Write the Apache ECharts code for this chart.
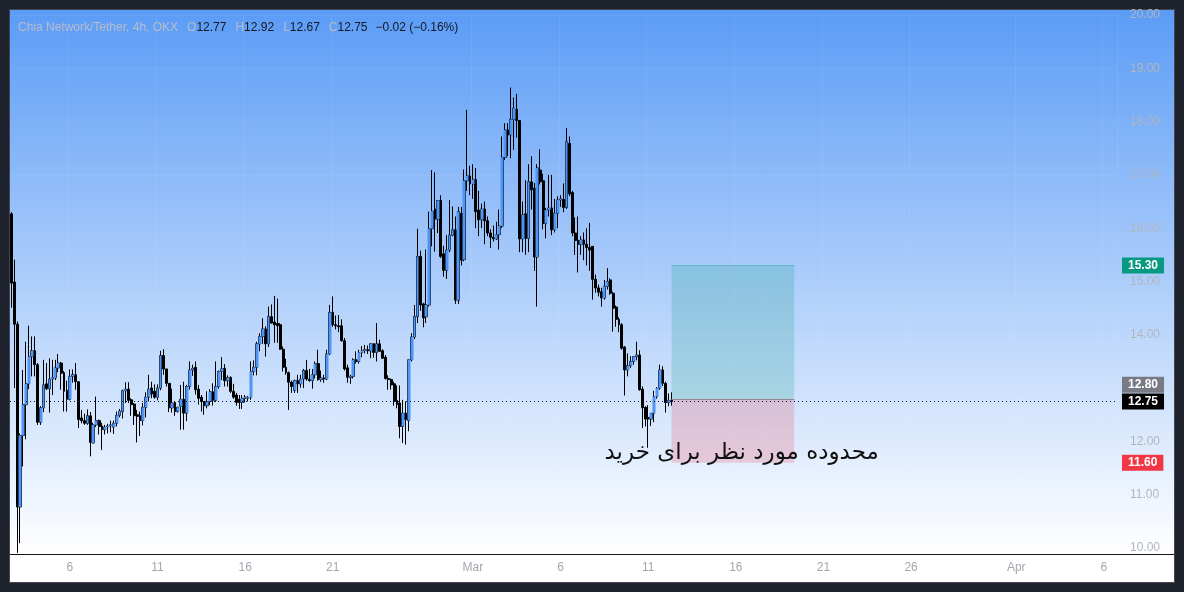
<!DOCTYPE html>
<html><head><meta charset="utf-8">
<script src="https://cdn.jsdelivr.net/npm/echarts@6/dist/echarts.min.js"></script>
<style>
html,body{margin:0;padding:0;background:#1e222d;width:1184px;height:592px;overflow:hidden}
#frame{position:absolute;left:9px;top:9px;width:1164px;height:572px;border:1px solid #434651;background:#ffffff}
#panel{position:absolute;left:10px;top:10px;width:1164px;height:544px;border-bottom:1px solid #131722;background:linear-gradient(to bottom,#5b9cf6 0%,#ffffff 100%)}
#chart{position:absolute;left:0;top:0;width:1184px;height:592px}
</style></head><body>
<div id="frame"></div><div id="panel"></div><div id="chart"></div>
<script>
// ---- data (XCH/USDT 4h, OKX) ----
const startTime = '2025-02-02T16:00:00Z';
const slotCount = 379;
const openP = [16.27,14.99,14.20,10.77,12.11,12.69,13.08,13.59,13.70,13.44,12.36,12.63,13.08,12.99,13.17,13.19,13.38,13.47,13.29,12.96,
12.79,13.22,13.25,13.12,12.44,12.39,12.34,12.48,11.97,12.31,12.39,12.29,12.22,12.27,12.29,12.27,12.34,12.49,12.56,12.95,
12.98,12.78,12.70,12.50,12.48,12.39,12.64,12.83,13.00,12.94,12.83,13.00,13.61,13.36,13.09,12.63,12.73,12.56,12.66,12.79,
12.53,13.03,13.34,13.39,12.98,12.83,12.75,12.67,12.75,12.93,12.77,13.03,13.31,13.37,13.14,13.20,12.94,12.87,12.79,12.73,
12.81,12.81,12.83,13.31,13.39,13.83,13.97,14.11,13.83,14.34,14.24,14.21,14.19,13.73,13.39,13.29,13.11,12.96,13.14,13.08,
13.17,13.33,13.17,13.14,13.25,13.46,13.16,13.19,13.17,13.64,14.42,14.19,14.17,14.17,13.89,13.38,13.20,13.22,13.53,13.50,
13.67,13.70,13.72,13.70,13.83,13.67,13.83,13.70,13.58,13.18,13.16,13.08,12.77,12.72,12.28,12.53,12.39,13.53,13.96,14.34,
15.47,14.58,14.34,14.56,15.99,16.36,16.17,16.52,15.52,15.21,15.59,15.87,15.97,14.65,16.28,15.41,16.89,16.98,16.83,16.91,
16.34,16.16,16.36,16.14,15.91,15.83,15.80,15.88,16.04,17.33,17.84,17.75,18.04,18.23,18.02,15.80,16.27,15.81,16.87,16.75,
15.46,17.09,16.89,16.09,16.34,16.38,15.97,16.28,16.53,16.54,16.39,17.59,16.67,15.91,15.77,15.70,15.78,15.70,15.64,15.66,
15.04,14.88,14.81,14.69,14.91,15.03,14.78,14.52,14.29,14.19,13.77,13.34,13.42,13.50,13.59,13.62,12.98,12.64,12.45,12.42,
12.53,12.84,13.00,13.34,13.09,12.73,12.77];
const highP = [16.30,15.41,14.25,12.15,13.34,13.87,14.17,13.97,13.97,13.47,12.66,13.53,13.47,13.56,13.53,13.53,13.64,13.49,13.32,13.14,
13.35,13.35,13.47,13.12,12.59,12.52,12.60,12.55,12.35,12.84,12.41,12.35,12.31,12.33,12.39,12.39,12.56,12.61,12.97,13.11,
13.11,12.81,12.72,12.59,12.56,12.72,12.92,13.25,13.12,13.07,13.07,13.70,13.73,13.36,13.09,12.99,12.76,12.65,13.06,13.12,
13.06,13.50,13.44,13.50,13.06,12.87,12.75,12.94,12.98,13.09,13.50,13.33,13.58,13.45,13.24,13.22,13.08,12.91,12.87,12.87,
12.87,12.85,13.50,13.52,13.87,14.03,14.31,14.16,14.53,14.57,14.73,14.68,14.22,13.78,13.55,13.31,13.14,13.16,13.25,13.25,
13.36,13.53,13.36,13.36,13.50,13.72,13.33,13.25,13.72,14.56,14.72,14.36,14.37,14.29,13.94,13.44,13.25,13.56,13.69,13.72,
13.79,13.81,13.80,13.84,13.84,14.22,13.91,13.73,13.62,13.24,13.18,13.12,13.05,13.05,12.78,12.75,13.53,14.03,14.56,15.99,
15.58,14.60,15.60,16.31,17.09,17.05,16.53,16.62,15.67,15.87,16.53,16.41,16.22,16.40,16.40,17.10,18.22,17.17,17.20,17.13,
16.70,16.46,16.50,16.22,15.98,16.05,16.12,16.35,17.72,17.97,17.97,18.64,18.45,18.52,18.03,16.50,16.90,17.20,17.35,16.85,
17.20,17.48,17.02,16.38,17.00,17.00,16.55,16.60,16.62,16.84,17.88,17.72,16.70,16.20,16.22,15.85,15.92,16.00,16.10,15.66,
15.13,14.94,14.88,15.03,15.25,15.06,14.81,14.55,14.33,14.22,13.79,13.65,13.60,13.60,13.87,13.71,13.03,12.66,12.68,12.48,
12.95,13.02,13.44,13.41,13.12,12.90,12.92];
const lowP = [14.51,13.00,9.91,10.09,11.53,12.04,12.98,13.22,13.22,12.31,12.31,12.55,12.96,12.54,12.87,13.15,13.30,12.97,12.56,12.56,
12.77,13.10,12.97,12.25,12.34,12.31,12.31,11.72,11.96,12.27,12.13,11.84,12.13,12.15,12.17,12.14,12.28,12.45,12.43,12.72,
12.72,12.48,12.31,11.98,12.10,12.30,12.45,12.75,12.81,12.80,12.77,12.96,13.25,13.03,12.55,12.54,12.48,12.54,12.22,12.22,
12.38,12.97,13.23,12.88,12.69,12.56,12.50,12.62,12.68,12.67,12.74,12.99,13.15,13.03,13.03,12.91,12.80,12.67,12.61,12.61,
12.73,12.75,12.78,13.24,13.24,13.69,13.83,13.59,13.77,14.21,13.85,13.85,13.72,13.31,13.25,12.59,12.91,12.91,12.91,13.01,
13.00,13.14,13.12,12.99,13.18,13.14,13.12,13.10,13.15,13.62,14.15,14.10,14.05,13.87,13.33,13.10,13.08,13.18,13.46,13.46,
13.58,13.65,13.64,13.56,13.57,13.50,13.69,13.55,13.16,12.97,12.97,12.67,12.62,12.06,11.97,11.94,12.19,13.50,13.92,14.22,
14.45,14.14,14.22,14.53,15.66,15.56,15.91,15.44,15.09,15.05,15.55,15.85,14.58,14.58,15.30,15.38,16.70,16.62,16.55,16.00,
15.85,16.00,15.70,15.85,15.63,15.75,15.78,15.60,16.00,17.28,17.35,17.31,17.47,17.70,15.55,15.55,15.50,15.55,16.35,15.20,
14.53,16.82,15.98,15.81,16.22,15.87,15.92,16.00,16.40,16.30,16.36,16.60,15.85,15.50,15.17,15.50,15.40,15.30,15.20,14.66,
14.79,14.72,14.53,14.66,14.85,14.75,14.06,14.15,14.05,13.72,12.86,13.22,13.38,13.44,13.52,12.95,12.25,12.28,11.88,12.29,
12.36,12.80,12.97,13.04,12.54,12.66,12.67];
const closeP = [14.97,14.20,10.77,12.11,12.69,13.08,13.59,13.70,13.44,12.36,12.63,13.06,12.99,13.17,13.20,13.38,13.47,13.28,12.94,12.79,
13.22,13.25,13.12,12.41,12.39,12.34,12.48,11.98,12.31,12.39,12.28,12.22,12.27,12.29,12.31,12.34,12.49,12.57,12.95,12.98,
12.77,12.69,12.48,12.47,12.39,12.64,12.83,12.98,12.89,12.83,13.00,13.61,13.36,13.09,12.63,12.72,12.56,12.64,12.79,12.53,
13.03,13.34,13.37,12.97,12.81,12.75,12.67,12.75,12.93,12.77,13.03,13.31,13.36,13.14,13.20,12.94,12.83,12.73,12.73,12.81,
12.83,12.83,13.31,13.39,13.83,13.97,14.11,13.83,14.34,14.22,14.19,14.17,13.73,13.39,13.29,13.11,13.03,13.14,13.08,13.17,
13.33,13.17,13.14,13.25,13.46,13.16,13.19,13.17,13.64,14.42,14.19,14.17,14.15,13.89,13.36,13.20,13.22,13.53,13.50,13.67,
13.70,13.72,13.70,13.83,13.67,13.83,13.69,13.56,13.18,13.16,13.06,12.75,12.69,12.28,12.53,12.41,13.53,13.96,14.34,15.47,
14.56,14.32,14.56,15.99,16.32,16.17,16.52,15.47,15.21,15.59,15.87,15.97,14.65,16.31,15.40,16.89,16.98,16.83,16.91,16.31,
16.16,16.36,16.14,15.91,15.83,15.80,15.88,16.04,17.33,17.84,17.75,18.04,18.25,18.02,15.80,16.25,15.81,16.87,16.72,15.46,
17.13,16.87,16.09,16.34,16.38,15.97,16.28,16.53,16.55,16.39,17.62,16.64,15.91,15.77,15.70,15.78,15.70,15.64,15.59,15.04,
14.88,14.80,14.69,14.91,15.00,14.78,14.50,14.29,14.19,13.75,13.34,13.42,13.50,13.59,13.62,12.97,12.63,12.42,12.42,12.53,
12.84,13.00,13.34,13.09,12.73,12.77,12.75];
const priceTicks = [10,11,12,13,14,15,16,17,18,19,20];
const tickDates  = ['2025-02-06','2025-02-11','2025-02-16','2025-02-21','2025-03-01','2025-03-06','2025-03-11','2025-03-16','2025-03-21','2025-03-26','2025-04-01','2025-04-06'];
const tickLabels = ['6','11','16','21','Mar','6','11','16','21','26','Apr','6'];
const zonePrices = {target: 15.30, entry: 12.80, stop: 11.60};
const zoneSlots = {start: 226, end: 268};
const zoneText = 'محدوده مورد نظر برای خرید';
const zoneTextAt = {slot: 250, price: 11.78};
const titleText = 'Chia Network/Tether, 4h, OKX';

// ---- build ----
const cats = [];
const t0 = Date.parse(startTime);
for (let i = 0; i < slotCount; i++) {
  const d = new Date(t0 + i * 4 * 3600e3);
  cats.push(d.toISOString().slice(0, 13).replace('T', ' ') + ':00');
}
const isTick = (v) => v.slice(11) === '00:00' && tickDates.indexOf(v.slice(0, 10)) >= 0;
const allCandles = openP.map((o, i) => [o, closeP[i], lowP[i], highP[i]]);
const upBodies = openP.map((o, i) => closeP[i] > o ? [o, closeP[i], o, closeP[i]] : '-');
const n = closeP.length;
const lastO = openP[n - 1], lastH = highP[n - 1], lastL = lowP[n - 1], lastC = closeP[n - 1];
const chg = lastC - closeP[n - 2];
const pct = chg / closeP[n - 2] * 100;
const fmtS = (v, d) => (v < 0 ? '\u2212' : '+') + Math.abs(v).toFixed(d);

const priceLabel = (bg, off) => ({
  show: true, position: 'end', distance: 5, formatter: (p) => p.value.toFixed(2),
  color: '#ffffff', backgroundColor: bg, fontSize: 12, fontWeight: 'bold',
  fontFamily: 'Liberation Sans', padding: [2, 6, 2, 6], lineHeight: 12, offset: [0, off]
});

const chart = echarts.init(document.getElementById('chart'), null, {renderer: 'canvas'});
chart.setOption({
  animation: false,
  backgroundColor: 'transparent',
  textStyle: {fontFamily: 'Liberation Sans'},
  title: {
    left: 13, top: 17,
    text: '{n|' + titleText + '}{k|O}{v|' + lastO.toFixed(2) + '}{k|H}{v|' + lastH.toFixed(2) +
          '}{k|L}{v|' + lastL.toFixed(2) + '}{k|C}{v|' + lastC.toFixed(2) + '}{c|' + fmtS(chg, 2) +
          ' (' + fmtS(pct, 2) + '%)}',
    textStyle: {
      fontSize: 12, fontWeight: 'normal',
      rich: {
        n: {color: '#b8bccb', fontSize: 12, fontFamily: 'Liberation Sans'},
        k: {color: '#b8bccb', fontSize: 12, fontFamily: 'Liberation Sans', padding: [0, 0, 0, 9]},
        v: {color: '#131722', fontSize: 12, fontFamily: 'Liberation Sans'},
        c: {color: '#131722', fontSize: 12, fontFamily: 'Liberation Sans', padding: [0, 0, 0, 8]}
      }
    }
  },
  grid: {left: 10, right: 67, top: 15, bottom: 44, containLabel: false, outerBoundsMode: 'none'},
  xAxis: {
    type: 'category', data: cats, boundaryGap: true, offset: 6,
    axisLine: {show: true, lineStyle: {color: '#131722', width: 1}},
    axisTick: {show: false},
    axisLabel: {
      interval: (i, v) => isTick(v), formatter: (v) => tickLabels[tickDates.indexOf(v.slice(0, 10))],
      color: '#a3a6af', fontSize: 12, margin: 8, fontFamily: 'Liberation Sans'
    },
    splitLine: {show: true, interval: (i, v) => isTick(v), lineStyle: {color: 'rgba(255,255,255,0.07)', width: 1}}
  },
  yAxis: {
    type: 'value', position: 'right', min: priceTicks[0], max: priceTicks[priceTicks.length - 1], interval: 1,
    axisLine: {show: false}, axisTick: {show: false},
    axisLabel: {color: '#b2b5be', fontSize: 12, margin: 13, formatter: (v) => v.toFixed(2), fontFamily: 'Liberation Sans'},
    splitLine: {show: true, lineStyle: {color: 'rgba(255,255,255,0.07)', width: 1}}
  },
  series: [
    {
      type: 'candlestick', name: 'all', data: allCandles, barWidth: 2.4, clip: false, silent: true,
      itemStyle: {color: '#000000', color0: '#000000', borderColor: '#000000', borderColor0: '#000000', borderWidth: 1},
      markArea: {
        silent: true,
        data: [
          [{coord: [cats[zoneSlots.start], zonePrices.target], itemStyle: {color: 'rgba(8,153,129,0.2)'}},
           {coord: [cats[zoneSlots.end], zonePrices.entry]}],
          [{coord: [cats[zoneSlots.start], zonePrices.entry], itemStyle: {color: 'rgba(242,54,69,0.2)'}},
           {coord: [cats[zoneSlots.end], zonePrices.stop]}]
        ]
      },
      markLine: {
        silent: true, symbol: ['none', 'none'], animation: false,
        data: [
          {yAxis: zonePrices.target, lineStyle: {color: 'transparent', width: 0}, label: priceLabel('#089981', 0)},
          {yAxis: zonePrices.stop, lineStyle: {color: 'transparent', width: 0}, label: priceLabel('#f23645', 0)},
          {yAxis: zonePrices.entry, lineStyle: {color: 'transparent', width: 0}, label: priceLabel('#787b86', -14)},
          {yAxis: lastC, lineStyle: {color: '#131722', type: [1, 3], width: 1}, label: priceLabel('#000000', 0)},
          [{coord: [cats[zoneSlots.start], zonePrices.entry], lineStyle: {color: '#8a8d96', type: 'solid', width: 1}, label: {show: false}},
           {coord: [cats[zoneSlots.end], zonePrices.entry]}],
          [{coord: [cats[zoneSlots.start], zonePrices.target], lineStyle: {color: 'rgba(8,153,129,0.35)', type: 'solid', width: 1}, label: {show: false}},
           {coord: [cats[zoneSlots.end], zonePrices.target]}]
        ]
      },
      markPoint: {
        silent: true, animation: false,
        data: [{
          coord: [cats[zoneTextAt.slot], zoneTextAt.price], symbol: 'rect', symbolSize: [1, 1],
          itemStyle: {color: 'transparent'},
          label: {show: true, position: 'inside', formatter: zoneText, color: '#111111', fontSize: 23, fontFamily: 'DejaVu Sans'}
        }]
      }
    },
    {
      type: 'candlestick', name: 'up', data: upBodies, barWidth: 3.3, silent: true,
      itemStyle: {color: '#4f95f5', color0: '#4f95f5', borderColor: '#4f95f5', borderColor0: '#4f95f5', borderWidth: 0}
    }
  ]
});
</script>
</body></html>
